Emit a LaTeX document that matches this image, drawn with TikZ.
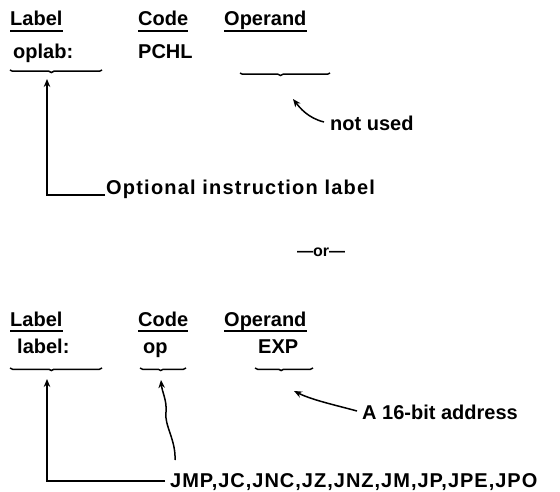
\documentclass[tikz,border=0pt]{standalone}
\usepackage{fontspec}
\setmainfont{Liberation Sans}
\usetikzlibrary{arrows.meta,positioning,calc,decorations.pathreplacing}

\begin{document}
\begin{tikzpicture}[x=1pt,y=-1pt, every node/.style={font=\bfseries\fontsize{20}{24}\selectfont,inner sep=0pt,anchor=base west}, wide/.style={font=\bfseries\fontsize{20}{24}\selectfont\addfontfeature{LetterSpace=6}}, arr/.style={-{Stealth[length=8pt,width=6.5pt]},line width=1.5pt}, brc/.style={decorate,decoration={brace,mirror,amplitude=2.5pt,aspect=0.45},line width=1.5pt}, ul/.style={line width=1.3pt}]
\useasboundingbox (0,0) rectangle (560,492);
\node (lab1) at (10,26) {Label};
\node (code1) at (138,26) {Code};
\node (opnd1) at (224,26) {Operand};
\foreach \n in {lab1,code1,opnd1} \draw[ul] ([yshift=-5pt]\n.base west) -- ([yshift=-5pt]\n.base east);
\node (oplab) at (13,59) {oplab:};
\node (pchl) at (138,59) {PCHL};
\draw[brc] (10,70) -- (102,70);
\draw[brc] (240,73) -- (330,73);
\coordinate (oplabtip) at (47,79);
\coordinate (blanktip) at (293,99);
\node[wide] (opt) at (106,195) {Optional instruction label};
\node (notused) at (330,131) {not used};
\coordinate (nutail) at (324,122);
\draw[arr] ([xshift=-1pt]opt.base west) -| (oplabtip);
\draw[arr] (nutail) .. controls (308,118) and (300,108) .. (blanktip);
\node[anchor=base] (or) at (321,256) {\fontsize{16}{20}\selectfont —or—};
\node (lab2) at (10,326) {Label};
\node (code2) at (138,326) {Code};
\node (opnd2) at (224,326) {Operand};
\foreach \n in {lab2,code2,opnd2} \draw[ul] ([yshift=-5pt]\n.base west) -- ([yshift=-5pt]\n.base east);
\node (label) at (17,353) {label:};
\node (op) at (143,353) {op};
\node (exp) at (258,353) {EXP};
\draw[brc] (10,368) -- (102,368);
\draw[brc] (140,368) -- (186,368);
\draw[brc] (255,368) -- (313,368);
\coordinate (labeltip) at (47,379);
\coordinate (optip) at (161,380);
\coordinate (exptip) at (294,391);
\node (addr) at (362,419) {A 16-bit address};
\coordinate (addrtail) at (357,411);
\draw[arr] (addrtail) .. controls (335,405) and (312,400) .. (exptip);
\node[wide,font=\bfseries\fontsize{20}{24}\selectfont\addfontfeature{LetterSpace=5}] (jmp) at (170,487) {JMP,JC,JNC,JZ,JNZ,JM,JP,JPE,JPO};
\coordinate (jmptail) at (175,460);
\draw[arr] ([xshift=-5pt,yshift=6pt]jmp.base west) -| (labeltip);
\draw[arr] (jmptail) .. controls (176,440) and (164,425) .. (166,412) .. controls (167,400) and (162,392) .. (optip);
\end{tikzpicture}
\end{document}
